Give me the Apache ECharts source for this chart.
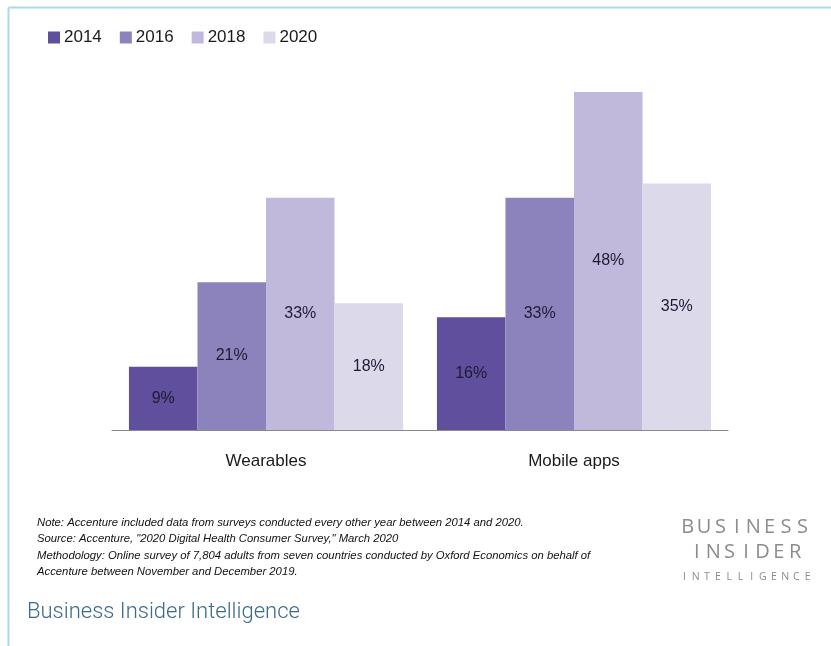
<!DOCTYPE html>
<html><head><meta charset="utf-8">
<script src="https://cdn.jsdelivr.net/npm/echarts@6/dist/echarts.min.js"></script>
<style>html,body{margin:0;padding:0;background:#fff}#c{width:831px;height:646px}</style>
</head><body><div id="c"></div>
<script>
const categories = ['Wearables', 'Mobile apps'];
const years = ['2014', '2016', '2018', '2020'];
const v2014 = [9, 16];
const v2016 = [21, 33];
const v2018 = [33, 48];
const v2020 = [18, 35];
const colors = ['#5f4f9c', '#8d83bc', '#c0b9dc', '#dcd9eb'];
const notes = [
  'Note: Accenture included data from surveys conducted every other year between 2014 and 2020.',
  'Source: Accenture, "2020 Digital Health Consumer Survey," March 2020',
  'Methodology: Online survey of 7,804 adults from seven countries conducted by Oxford Economics on behalf of',
  'Accenture between November and December 2019.'
];

const seriesVals = [v2014, v2016, v2018, v2020];
const graphics = [
  {type:'line', shape:{x1:8.5,y1:7.5,x2:831,y2:7.5}, style:{stroke:'#a9d9ea', lineWidth:2}},
  {type:'line', shape:{x1:8.5,y1:7.5,x2:8.5,y2:646}, style:{stroke:'#a9d9ea', lineWidth:2}},
  {type:'text', left:27, top:601, style:{text:'Business Insider Intelligence', fontFamily:'Roboto', fontWeight:300, fontSize:22, fill:'#3b6a8a'}}
];
notes.forEach((t,i)=>graphics.push({type:'text', left:37, top:517+i*16.5,
  style:{text:t, fontFamily:'Liberation Sans Narrow, Liberation Sans', fontStyle:'italic', fontSize:11.3, fill:'#111'}}));
function spaced(word, cx, y, size, step){
  const n = word.length;
  for (let i=0;i<n;i++){
    graphics.push({type:'text', x: cx + (i-(n-1)/2)*step, y:y,
      style:{text:word[i], fontFamily:'Open Sans', fontSize:size, fill:'#8c8c8c', align:'center', verticalAlign:'middle'}});
  }
}
spaced('BUSINESS', 745, 527, 20, 16.4);
spaced('INSIDER', 746, 552, 20, 16.4);
spaced('INTELLIGENCE', 746, 577, 10.5, 11.2);

const chart = echarts.init(document.getElementById('c'));
chart.setOption({
  animation:false,
  textStyle:{fontFamily:'Liberation Sans'},
  legend:{left:43, top:24, itemWidth:12, itemHeight:12, itemGap:18, itemStyle:{borderWidth:0}, icon:'rect',
    textStyle:{fontSize:17, color:'#1a1a1a', fontFamily:'Liberation Sans', padding:[0,0,0,-1]},
    data: years},
  grid:{left:112, right:103, top:78, bottom:216, containLabel:false},
  xAxis:{type:'category', data:categories,
    axisLine:{lineStyle:{color:'#8a8a8a', width:1}}, axisTick:{show:false},
    axisLabel:{fontSize:17, color:'#1a1a1a', margin:23}},
  yAxis:{type:'value', min:0, max:50, show:false, splitLine:{show:false}},
  series: years.map((y,i)=>({
    name:y, type:'bar', data:seriesVals[i], barGap:'0%', barCategoryGap:'11%',
    itemStyle:{color:colors[i]},
    label:{show:true, position:'inside', formatter:'{c}%', fontSize:16, color:'#1e1a33', fontFamily:'Liberation Sans'}
  })),
  graphic: graphics
});
</script></body></html>
